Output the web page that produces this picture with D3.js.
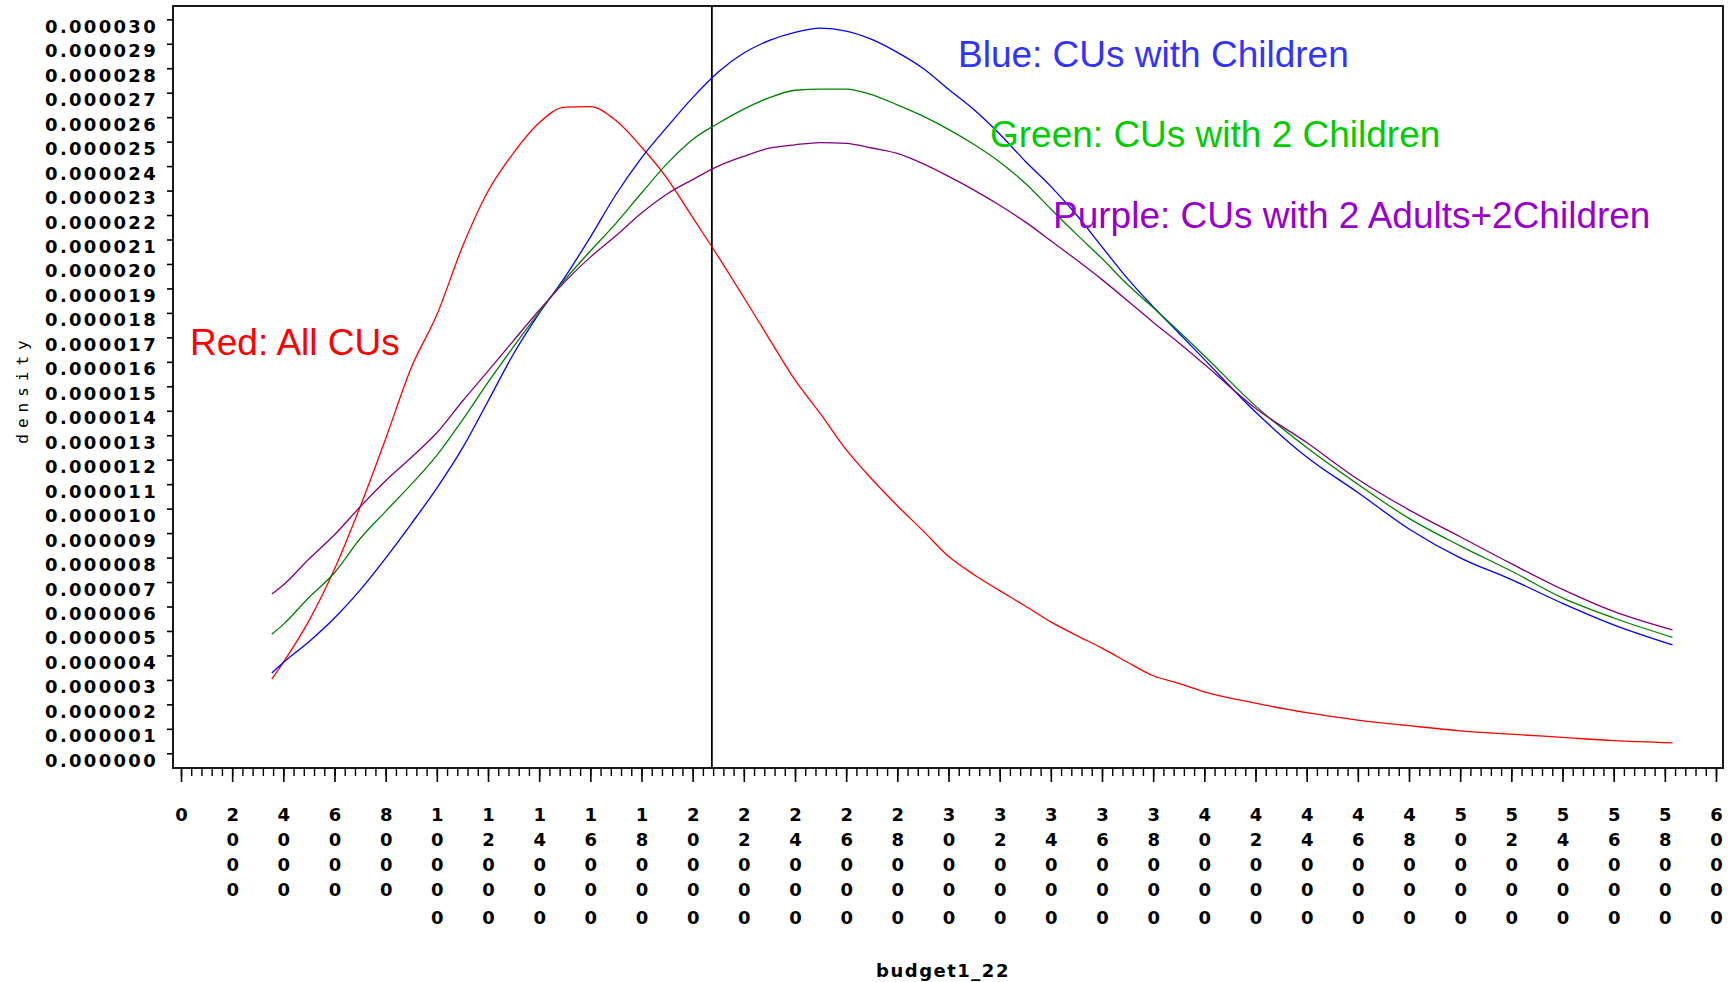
<!DOCTYPE html>
<html>
<head>
<meta charset="utf-8">
<script src="https://cdn.jsdelivr.net/npm/d3@7/dist/d3.min.js"></script>
<style>
  body { margin: 0; background: #fff; }
  .num { font-family: "DejaVu Sans", sans-serif; font-weight: bold; font-size: 18px; fill: #000; }
  .note { font-family: "Liberation Sans", Arial, sans-serif; font-size: 37px; }
</style>
</head>
<body>
<div id="chart"></div>
<script>
// budget1_22 values where the density curves were read
var budget = [3550, 4000, 5000, 6000, 7000, 8000, 9000, 10000, 11000, 12000,
    13000, 14000, 15000, 16000, 17000, 18000, 19000, 20000, 21000, 22000,
    23000, 24000, 25000, 26000, 27000, 28000, 29000, 30000, 31000, 32000,
    33000, 34000, 35000, 36000, 37000, 38000, 39000, 40000, 42000, 44000,
    46000, 48000, 50000, 52000, 54000, 56000, 58300];

// densities, in millionths (0.000001)
var allCUs = [3.04, 3.72, 5.41, 7.53, 10.07, 12.86, 15.76, 17.92, 20.70, 22.97,
    24.54, 25.77, 26.41, 26.43, 25.86, 24.78, 23.50, 21.90, 20.30, 18.63,
    16.93, 15.26, 13.87, 12.41, 11.21, 10.12, 9.10, 8.05, 7.30, 6.65,
    6.02, 5.37, 4.82, 4.30, 3.72, 3.17, 2.86, 2.51, 2.05, 1.66,
    1.36, 1.13, 0.92, 0.78, 0.65, 0.52, 0.43];
var withChildren = [3.28, 3.71, 4.56, 5.53, 6.67, 7.98, 9.38, 10.84, 12.47, 14.39,
    16.33, 17.98, 19.45, 21.10, 22.84, 24.34, 25.60, 26.80, 27.85, 28.62,
    29.14, 29.47, 29.64, 29.52, 29.18, 28.65, 28.00, 27.14, 26.30, 25.31,
    24.20, 23.17, 22.01, 20.70, 19.40, 18.25, 17.18, 16.10, 13.95, 12.11,
    10.66, 9.17, 7.99, 7.10, 6.13, 5.25, 4.43];
var twoChildren = [4.87, 5.27, 6.37, 7.38, 8.77, 9.89, 10.99, 12.18, 13.62, 15.16,
    16.62, 18.02, 19.35, 20.53, 21.66, 22.90, 24.10, 25.09, 25.75, 26.33,
    26.80, 27.10, 27.15, 27.15, 26.92, 26.50, 26.04, 25.50, 24.88, 24.17,
    23.30, 22.25, 21.22, 20.22, 19.16, 18.22, 17.25, 16.25, 14.20, 12.50,
    11.00, 9.60, 8.48, 7.45, 6.35, 5.53, 4.74];
var twoAdultsTwoChildren = [6.51, 6.88, 7.94, 8.93, 10.07, 11.14, 12.09, 13.10, 14.39, 15.62,
    16.87, 18.11, 19.27, 20.28, 21.15, 22.08, 22.86, 23.45, 24.00, 24.40,
    24.73, 24.87, 24.96, 24.93, 24.74, 24.52, 24.10, 23.58, 23.02, 22.40,
    21.72, 20.95, 20.17, 19.36, 18.50, 17.62, 16.78, 15.90, 14.10, 12.70,
    11.20, 9.95, 8.85, 7.75, 6.70, 5.80, 5.04];

var refBudget = 20750;
var xMax = 60000;
var xMajorStep = 2000;
var xMinorStep = 400;
var yMax = 30;
var notes = ["Blue: CUs with Children", "Green: CUs with 2 Children",
    "Purple: CUs with 2 Adults+2Children", "Red: All CUs"];
var xTitle = "budget1_22";
var yTitle = "density";

var width = 1732;
var height = 982;

var svg = d3.select("#chart").append("svg")
    .attr("width", width)
    .attr("height", height);

var x = d3.scaleLinear().domain([0, xMax]).range([181, 1716]);
var y = d3.scaleLinear().domain([0, yMax]).range([753.3, 19.3]);

var frame = {left: 173, right: 1723, top: 6, bottom: 768};

// y axis (ticks outside, labels sit a little below the tick)
var yAxis = svg.append("g")
    .attr("transform", "translate(" + frame.left + ",0)")
    .call(d3.axisLeft(y)
        .tickValues(d3.range(0, yMax + 1))
        .tickSize(6)
        .tickSizeOuter(0)
        .tickFormat(function(d) { return (d / 1e6).toFixed(6); }));
yAxis.select(".domain").remove();
yAxis.selectAll(".tick line").attr("stroke", "#000").attr("stroke-width", 1.6);
yAxis.selectAll(".tick text")
    .attr("class", "num")
    .attr("x", -15)
    .attr("y", 13)
    .attr("dy", null)
    .style("letter-spacing", "2.3px");

// x axis: minor then major ticks
var xMinor = svg.append("g")
    .attr("transform", "translate(0," + frame.bottom + ")")
    .call(d3.axisBottom(x)
        .tickValues(d3.range(0, xMax + 1, xMinorStep))
        .tickSize(8)
        .tickSizeOuter(0)
        .tickFormat(""));
xMinor.select(".domain").remove();
xMinor.selectAll(".tick line").attr("stroke", "#000").attr("stroke-width", 1.4);

var xMajor = svg.append("g")
    .attr("transform", "translate(0," + frame.bottom + ")")
    .call(d3.axisBottom(x)
        .tickValues(d3.range(0, xMax + 1, xMajorStep))
        .tickSize(14)
        .tickSizeOuter(0)
        .tickFormat(""));
xMajor.select(".domain").remove();
xMajor.selectAll(".tick line").attr("stroke", "#000").attr("stroke-width", 1.6);

// stacked digit labels
var rowY = [53, 78, 103, 128, 156];
xMajor.selectAll(".tick").each(function(d) {
    var digits = String(d).split("");
    var t = d3.select(this).append("text")
        .attr("class", "num")
        .attr("text-anchor", "middle");
    digits.forEach(function(ch, i) {
        t.append("tspan")
            .attr("x", 0)
            .attr("y", rowY[i])
            .text(ch);
    });
});

// frame
svg.append("rect")
    .attr("x", frame.left)
    .attr("y", frame.top)
    .attr("width", frame.right - frame.left)
    .attr("height", frame.bottom - frame.top)
    .attr("fill", "none")
    .attr("stroke", "#000")
    .attr("stroke-width", 1.8);

// reference line
svg.append("line")
    .attr("x1", x(refBudget))
    .attr("x2", x(refBudget))
    .attr("y1", frame.top)
    .attr("y2", frame.bottom)
    .attr("stroke", "#000")
    .attr("stroke-width", 1.8);

// curves
var series = [
    {values: allCUs, colour: "#ff0000"},
    {values: withChildren, colour: "#0000ff"},
    {values: twoChildren, colour: "#008000"},
    {values: twoAdultsTwoChildren, colour: "#800080"}
];

var line = d3.line()
    .x(function(d, i) { return x(budget[i]); })
    .y(function(d) { return y(d); })
    .curve(d3.curveMonotoneX);

svg.selectAll(".curve")
    .data(series)
    .enter().append("path")
    .attr("class", "curve")
    .attr("d", function(s) { return line(s.values); })
    .attr("fill", "none")
    .attr("stroke", function(s) { return s.colour; })
    .attr("stroke-width", 1.3);

// notes in the plot
var notePos = [[958, 67, "#3333ff"], [990, 147, "#00cc00"], [1053, 228, "#9900cc"], [190, 355, "#ff0000"]];
notes.forEach(function(n, i) {
    svg.append("text")
        .attr("class", "note")
        .attr("x", notePos[i][0])
        .attr("y", notePos[i][1])
        .attr("fill", notePos[i][2])
        .text(n);
});

// axis titles
svg.append("text")
    .attr("class", "num")
    .attr("x", 943)
    .attr("y", 977)
    .attr("text-anchor", "middle")
    .style("letter-spacing", "1.5px")
    .text(xTitle);

svg.append("text")
    .attr("transform", "translate(28,389) rotate(-90)")
    .attr("text-anchor", "middle")
    .style("font-family", "DejaVu Sans Mono, monospace")
    .style("font-size", "16px")
    .style("letter-spacing", "6px")
    .text(yTitle);
</script>
</body>
</html>
